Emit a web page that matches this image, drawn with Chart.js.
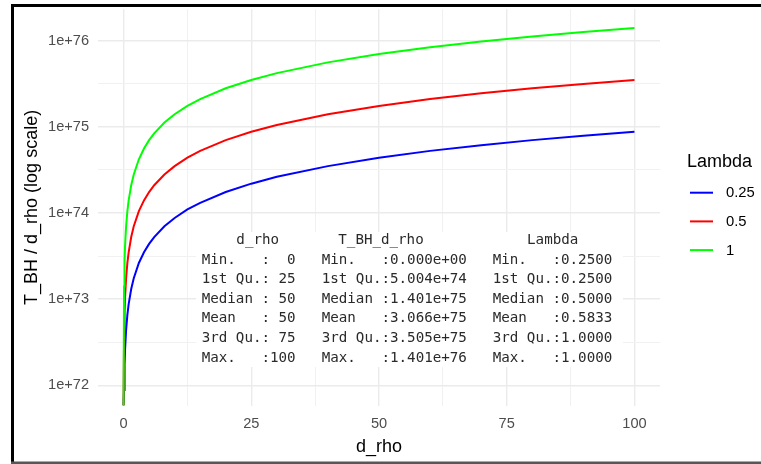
<!DOCTYPE html>
<html><head><meta charset="utf-8">
<script src="https://cdn.jsdelivr.net/npm/chart.js@4.4.1/dist/chart.umd.min.js"></script>
<style>html,body{margin:0;padding:0;background:#fff;overflow:hidden}#wrap{width:761px;height:464px;position:relative}canvas{display:block}</style>
</head><body><div id="wrap"><canvas id="c" width="761" height="464"></canvas></div>
<script>
// ---- data ----
const dRho = [0, 0.1, 0.2, 0.3, 0.5, 0.75, 1, 1.5, 2, 3, 4, 5, 6, 8, 10, 12.5, 15, 20, 25, 30, 40, 50, 60, 70, 80, 90, 100];
const lambdas = ['0.25', '0.5', '1'];
const tbhLambda025 = [0, 8.8e71, 1.75e72, 2.63e72, 4.38e72, 6.57e72, 8.76e72, 1.31e73, 1.75e73, 2.63e73, 3.50e73, 4.38e73, 5.26e73, 7.01e73, 8.76e73, 1.10e74, 1.31e74, 1.75e74, 2.19e74, 2.63e74, 3.50e74, 4.38e74, 5.26e74, 6.13e74, 7.01e74, 7.88e74, 8.76e74];
const tbhLambda05 = [0, 3.50e72, 7.01e72, 1.05e73, 1.75e73, 2.63e73, 3.50e73, 5.26e73, 7.01e73, 1.05e74, 1.40e74, 1.75e74, 2.10e74, 2.80e74, 3.50e74, 4.38e74, 5.26e74, 7.01e74, 8.76e74, 1.05e75, 1.40e75, 1.75e75, 2.10e75, 2.45e75, 2.80e75, 3.15e75, 3.50e75];
const tbhLambda1 = [0, 1.40e73, 2.80e73, 4.20e73, 7.01e73, 1.05e74, 1.40e74, 2.10e74, 2.80e74, 4.20e74, 5.60e74, 7.01e74, 8.41e74, 1.12e75, 1.40e75, 1.75e75, 2.10e75, 2.80e75, 3.50e75, 4.20e75, 5.60e75, 7.01e75, 8.41e75, 9.81e75, 1.12e76, 1.26e76, 1.40e76];
const seriesColors = ['#0000FF', '#FF0000', '#00FF00'];

const xTickValues = [0, 12.5, 25, 37.5, 50, 62.5, 75, 87.5, 100];
const xTickLabels = ['0', '', '25', '', '50', '', '75', '', '100'];
const yTickValues = [1e72, 3.1623e72, 1e73, 3.1623e73, 1e74, 3.1623e74, 1e75, 3.1623e75, 1e76];
const yTickLabels = ['1e+72', '', '1e+73', '', '1e+74', '', '1e+75', '', '1e+76'];

const summaryHeaders = ['d_rho', 'T_BH_d_rho', 'Lambda'];
const summaryStats = ['Min.   ', '1st Qu.', 'Median ', 'Mean   ', '3rd Qu.', 'Max.   '];
const summaryDRho = ['  0', ' 25', ' 50', ' 50', ' 75', '100'];
const summaryTbh = ['0.000e+00', '5.004e+74', '1.401e+75', '3.066e+75', '3.505e+75', '1.401e+76'];
const summaryLambda = ['0.2500', '0.2500', '0.5000', '0.5833', '1.0000', '1.0000'];

// ---- chart ----
const SANS = "'Liberation Sans', Arial, sans-serif";
const MONO = "'DejaVu Sans Mono', 'Liberation Mono', monospace";
Chart.defaults.font.family = SANS;

const seriesValues = [tbhLambda025, tbhLambda05, tbhLambda1];
const datasets = seriesValues.map((vals, k) => ({
  label: lambdas[k],
  data: dRho.map((d, i) => ({x: d, y: vals[i]})),
  borderColor: seriesColors[k],
  backgroundColor: seriesColors[k],
  borderWidth: 2,
  pointRadius: 0,
  fill: false,
  tension: 0,
  order: 2 - k
}));

const summaryPlugin = {
  id: 'summaryBox',
  beforeDatasetsDraw(chart) {
    const ctx = chart.ctx;
    ctx.save();
    ctx.fillStyle = '#fff';
    ctx.fillRect(196, 232, 427, 135);
    ctx.fillStyle = '#2a2a2a';
    ctx.font = '14.2px ' + MONO;
    ctx.textBaseline = 'middle';
    const headerX = [257.7, 381, 552.7];
    ctx.textAlign = 'center';
    summaryHeaders.forEach((h, i) => ctx.fillText(h, headerX[i], 240));
    ctx.textAlign = 'left';
    const colX = [201.7, 321.7, 492.7];
    const cols = [summaryDRho, summaryTbh, summaryLambda];
    summaryStats.forEach((s, r) => {
      const y = 260 + r * 19.6;
      cols.forEach((col, c) => ctx.fillText(s + ':' + col[r], colX[c], y));
    });
    ctx.restore();
  }
};

const legendPlugin = {
  id: 'ggLegend',
  afterDraw(chart) {
    const ctx = chart.ctx;
    ctx.save();
    ctx.fillStyle = '#000';
    ctx.textBaseline = 'middle';
    ctx.textAlign = 'left';
    ctx.font = '18px ' + SANS;
    ctx.fillText('Lambda', 687, 162);
    ctx.font = '14.8px ' + SANS;
    chart.data.datasets.forEach((ds, i) => {
      const y = 192.7 + i * 28.7;
      ctx.strokeStyle = ds.borderColor;
      ctx.lineWidth = 2;
      ctx.beginPath();
      ctx.moveTo(690, y);
      ctx.lineTo(713, y);
      ctx.stroke();
      ctx.fillStyle = '#000';
      ctx.fillText(ds.label, 726, y + 0.5);
    });
    // screenshot frame
    ctx.fillStyle = '#000';
    ctx.fillRect(11, 4, 750, 3);
    ctx.fillRect(11, 4, 3, 459);
    ctx.fillStyle = '#575757';
    ctx.fillRect(11, 461.5, 750, 2.5);
    ctx.restore();
  }
};

const gridColor = (c) => (c.index % 2 === 0 ? '#EBEBEB' : '#F1F1F1');
const gridWidth = (c) => (c.index % 2 === 0 ? 1.4 : 1);

new Chart(document.getElementById('c'), {
  type: 'line',
  data: {datasets},
  plugins: [summaryPlugin, legendPlugin],
  options: {
    responsive: false,
    animation: false,
    devicePixelRatio: 1,
    parsing: false,
    events: [],
    layout: {autoPadding: false, padding: {top: 9.3, right: 101, bottom: 0, left: 0}},
    plugins: {legend: {display: false}, tooltip: {enabled: false}},
    scales: {
      x: {
        type: 'linear',
        min: -5, max: 105,
        afterBuildTicks: (s) => { s.ticks = xTickValues.map(v => ({value: v})); },
        afterFit: (s) => { s.height = 58.5; },
        ticks: {autoSkip: false, maxRotation: 0, padding: 10, color: '#4D4D4D', font: {size: 14.6},
          callback: (v, i) => xTickLabels[i]},
        grid: {color: gridColor, lineWidth: gridWidth, drawTicks: false},
        border: {display: false},
        title: {display: true, text: 'd_rho', color: '#000', font: {size: 18}, padding: {top: 0, bottom: 6.5}}
      },
      y: {
        type: 'logarithmic',
        min: Math.pow(10, 71.766), max: Math.pow(10, 76.364),
        afterBuildTicks: (s) => { s.ticks = yTickValues.map(v => ({value: v})); },
        afterFit: (s) => { s.width = 98; },
        ticks: {autoSkip: false, padding: 0, color: '#4D4D4D', font: {size: 14.6},
          callback: (v, i) => yTickLabels[i]},
        grid: {color: gridColor, lineWidth: gridWidth, drawTicks: true, tickLength: 9, tickColor: 'rgba(0,0,0,0)'},
        border: {display: false},
        title: {display: true, text: 'T_BH / d_rho (log scale)', color: '#000', font: {size: 18}, padding: {top: 21, bottom: 0}}
      }
    }
  }
});
</script>
</body></html>
